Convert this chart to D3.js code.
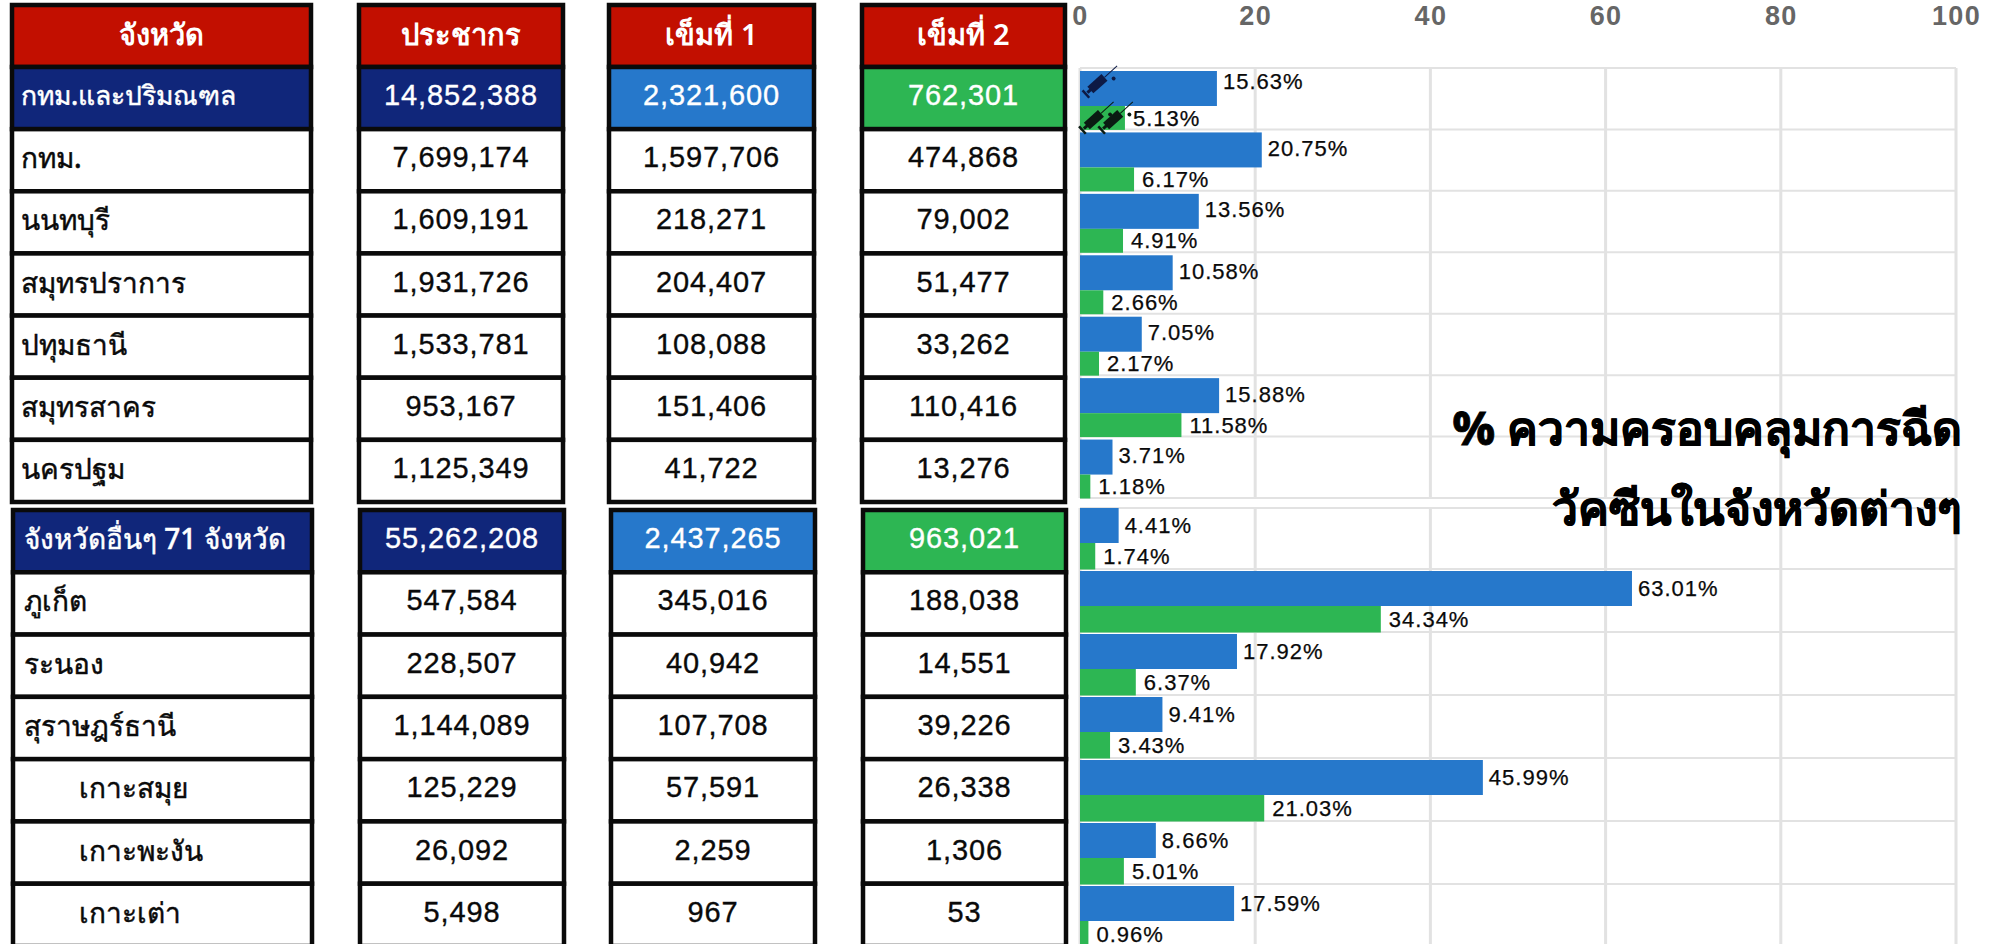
<!DOCTYPE html>
<html><head><meta charset="utf-8"><script src="https://cdn.jsdelivr.net/npm/d3@7"></script>
<style>html,body{margin:0;background:#fff;overflow:hidden}svg{display:block}</style></head><body><svg id="c" width="1995" height="944"></svg>
<script>
const headers=["จังหวัด","ประชากร","เข็มที่ 1","เข็มที่ 2"];
const namesA=["กทม.และปริมณฑล","กทม.","นนทบุรี","สมุทรปราการ","ปทุมธานี","สมุทรสาคร","นครปฐม"];
const popA=[14852388,7699174,1609191,1931726,1533781,953167,1125349];
const dose1A=[2321600,1597706,218271,204407,108088,151406,41722];
const dose2A=[762301,474868,79002,51477,33262,110416,13276];
const pct1A=[15.63,20.75,13.56,10.58,7.05,15.88,3.71];
const pct2A=[5.13,6.17,4.91,2.66,2.17,11.58,1.18];
const namesB=["จังหวัดอื่นๆ 71 จังหวัด","ภูเก็ต","ระนอง","สุราษฎร์ธานี","เกาะสมุย","เกาะพะงัน","เกาะเต่า"];
const popB=[55262208,547584,228507,1144089,125229,26092,5498];
const dose1B=[2437265,345016,40942,107708,57591,2259,967];
const dose2B=[963021,188038,14551,39226,26338,1306,53];
const pct1B=[4.41,63.01,17.92,9.41,45.99,8.66,17.59];
const pct2B=[1.74,34.34,6.37,3.43,21.03,5.01,0.96];
const indentedB=["เกาะสมุย","เกาะพะงัน","เกาะเต่า"];
const axisTicks=[0,20,40,60,80,100];
const titleLines=["% ความครอบคลุมการฉีด","วัคซีนในจังหวัดต่างๆ"];

const RED="#c20f00",NAVY="#10267a",BLUE="#2678cb",GREEN="#2db653",GRID="#e2e2e2";
const THAI="'Noto Sans',sans-serif",NUM="'Liberation Sans',Arial,sans-serif";
const svg=d3.select("#c");
const fmt=d3.format(",");
const x=d3.scaleLinear().domain([0,100]).range([1080,1956]);

const blocks=[
 {names:namesA,pop:popA,d1:dose1A,d2:dose2A,p1:pct1A,p2:pct2A,
  rowY:d3.scaleBand().domain(namesA).range([67,502]),
  chartY:d3.scaleBand().domain(namesA).range([68,498]),
  barTop:3,cols:[[10,313],[357,565],[607,816],[860,1067]],labelX:21,top:68},
 {names:namesB,pop:popB,d1:dose1B,d2:dose2B,p1:pct1B,p2:pct2B,
  rowY:d3.scaleBand().domain(namesB).range([510,946]),
  chartY:d3.scaleBand().domain(namesB).range([506,947]),
  barTop:2,cols:[[11,314],[358,566],[609,817],[861,1068]],labelX:24,top:508}
];

// ---------- table ----------
const table=svg.append("g");
function cell(g,x0,x1,y0,y1,fill){
  g.append("rect").attr("x",x0+2).attr("y",y0).attr("width",x1-x0-4).attr("height",y1-y0)
   .attr("fill",fill).attr("stroke","#0a0a0a").attr("stroke-width",4.5);
}
function numText(g,cx,cy,str,color){
  g.append("text").attr("x",cx).attr("y",cy).attr("text-anchor","middle").attr("dominant-baseline","central")
   .attr("font-family",NUM).attr("font-size",29).attr("letter-spacing",0.9)
   .attr("fill",color).attr("stroke",color).attr("stroke-width",0.35).text(str);
}
// header
blocks[0].cols.forEach((c,i)=>{
  cell(table,c[0],c[1],5,67,RED);
  table.append("text").attr("x",(c[0]+c[1])/2).attr("y",33).attr("text-anchor","middle").attr("dominant-baseline","central")
   .attr("font-family",THAI).attr("font-weight",600).attr("font-size",29).attr("fill","#fff").text(headers[i]);
});
blocks.forEach((b,k)=>{
  b.names.forEach((n,i)=>{
    const y0=b.rowY(n),y1=y0+b.rowY.bandwidth(),cy=(y0+y1)/2-3,head=i===0;
    const fills=head?[NAVY,NAVY,BLUE,GREEN]:["#fff","#fff","#fff","#fff"];
    const tc=head?"#fff":"#0a0a0a";
    b.cols.forEach((c,j)=>cell(table,c[0],c[1],y0,y1,fills[j]));
    table.append("text").attr("x",indentedB.includes(n)?79:b.labelX).attr("y",cy)
      .attr("dominant-baseline","central").attr("font-family",THAI).attr("font-weight",500)
      .attr("font-size",k===0&&head?26.5:28).attr("fill",tc).attr("stroke",tc).attr("stroke-width",0.45).text(n);
    [b.pop,b.d1,b.d2].forEach((arr,j)=>{
      const c=b.cols[j+1];
      numText(table,(c[0]+c[1])/2,cy,fmt(arr[i]),tc);
    });
  });
});

// ---------- chart ----------
const chart=svg.append("g");
const axis=d3.axisTop(x).tickValues(axisTicks).tickSize(0).tickPadding(0).tickFormat(d3.format("d"));
const axG=chart.append("g").attr("transform","translate(0,25)").call(axis);
axG.select(".domain").remove();
axG.selectAll("text").attr("font-family",NUM).attr("font-weight",700).attr("font-size",27)
   .attr("letter-spacing",1.4).attr("fill","#666");
blocks.forEach((b,k)=>{
  const bottom=k===0?498:947;
  chart.append("g").selectAll("line").data(axisTicks).join("line")
    .attr("x1",d=>x(d)).attr("x2",d=>x(d)).attr("y1",b.top).attr("y2",bottom)
    .attr("stroke",GRID).attr("stroke-width",3);
  const ys=[b.top].concat(b.names.map(n=>b.chartY(n)+b.chartY.bandwidth()));
  chart.append("g").selectAll("line").data(ys).join("line")
    .attr("x1",x(0)).attr("x2",x(100)).attr("y1",d=>d).attr("y2",d=>d)
    .attr("stroke",GRID).attr("stroke-width",2);
  const rows=b.names.map((n,i)=>({n,i,p1:b.p1[i],p2:b.p2[i]}));
  const step=b.chartY.bandwidth(),bh=35;
  chart.append("g").selectAll("rect").data(rows).join("rect")
    .attr("x",x(0)).attr("y",d=>b.chartY(d.n)+b.barTop).attr("width",d=>x(d.p1)-x(0)).attr("height",bh).attr("fill",BLUE);
  chart.append("g").selectAll("rect").data(rows).join("rect")
    .attr("x",x(0)).attr("y",d=>b.chartY(d.n)+b.barTop+bh).attr("width",d=>x(d.p2)-x(0)).attr("height",step-b.barTop-bh+0.5).attr("fill",GREEN);
  const lab=(sel,acc,dy,gap)=>sel.selectAll("text").data(rows).join("text")
    .attr("x",d=>x(d[acc])+gap).attr("y",d=>b.chartY(d.n)+(dy+(k===0&&d.i===0&&acc==="p1"?-6:0)))
    .attr("dominant-baseline","central").attr("font-family",NUM).attr("font-size",22).attr("letter-spacing",1)
    .attr("fill","#0a0a0a").attr("stroke","#0a0a0a").attr("stroke-width",0.25).text(d=>d[acc].toFixed(2)+"%");
  lab(chart.append("g"),"p1",19,6);
  lab(chart.append("g"),"p2",50,8);
});

// syringe icons: drawn in local units, placed from the first row's bars
function syringe(cx,cy,color){
  const g=chart.append("g").attr("transform",`translate(${cx},${cy}) rotate(-42)`).attr("fill",color).attr("stroke",color);
  g.append("rect").attr("x",-12).attr("y",-4.5).attr("width",19).attr("height",9).attr("stroke","none");
  g.append("rect").attr("x",-16).attr("y",-1.5).attr("width",5).attr("height",3).attr("stroke","none");
  g.append("line").attr("x1",-18).attr("x2",-18).attr("y1",-5).attr("y2",5).attr("stroke-width",2.5);
  g.append("line").attr("x1",7).attr("x2",24).attr("y1",0).attr("y2",0).attr("stroke-width",1);
  g.append("circle").attr("cx",13).attr("cy",7).attr("r",2).attr("stroke","none");
}
const r0=blocks[0].chartY(namesA[0]);
syringe(x(2.2),r0+14,"#0d1a45");
syringe(x(1.8),r0+50,"#0a1a12");
syringe(x(4),r0+50,"#0a1a12");

// ---------- title ----------
titleLines.forEach((t,i)=>{
  svg.append("text").attr("x",1962).attr("y",445+i*80).attr("text-anchor","end")
    .attr("font-family",THAI).attr("font-weight",800).attr("font-size",46)
    .attr("fill","#000").attr("stroke","#000").attr("stroke-width",0.8).text(t);
});
</script></body></html>
